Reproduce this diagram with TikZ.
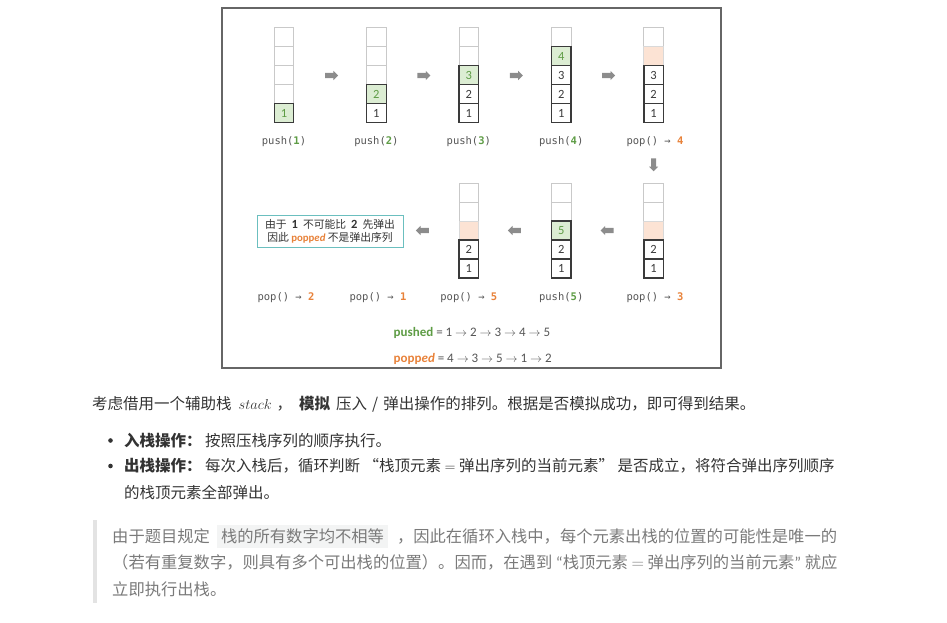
\documentclass[tikz,border=0pt]{standalone}
\usepackage{fontspec}
\setmainfont{Noto Sans CJK SC}
\newfontfamily\monofont{DejaVu Sans Mono}
\newfontfamily\numfont{Carlito}
\usepackage{xcolor}
\usetikzlibrary{shapes.arrows,positioning}
\definecolor{cgreen}{HTML}{5E9C45}
\definecolor{cgreenfill}{HTML}{DCEDD3}
\definecolor{corange}{HTML}{E8823A}
\definecolor{cpeach}{HTML}{FCE3D4}
\definecolor{cempty}{HTML}{C9C9C9}
\definecolor{cdark}{HTML}{3A3A3A}
\definecolor{cgray}{HTML}{555555}
\definecolor{carrow}{HTML}{8C8C8C}
\definecolor{cteal}{HTML}{6BBFBF}
\definecolor{ctext}{HTML}{333333}
\definecolor{cquote}{HTML}{7A7A7A}
\definecolor{cbar}{HTML}{E3E3E3}
\definecolor{ccode}{HTML}{F3F4F4}
\tikzset{
  cellbase/.style={minimum width=19.5pt,minimum height=19pt,inner sep=0pt,font=\numfont\fontsize{12.5}{14}\selectfont},
  emptycell/.style={cellbase,draw=cempty,line width=0.8pt,fill=white},
  fullcell/.style={cellbase,draw=cdark,line width=1.3pt,fill=white,text=cdark},
  newcell/.style={fullcell,fill=cgreenfill,text=cgreen},
  popcell/.style={cellbase,draw=cempty!70,line width=0.8pt,fill=cpeach},
  opname/.style={font=\monofont\fontsize{10.5}{12}\selectfont,text=cgray,inner sep=0pt},
  blockarrow/.style={single arrow,fill=carrow,minimum height=13pt,minimum width=9pt,
    single arrow head extend=2pt,inner sep=2.4pt},
  seqline/.style={anchor=west,inner sep=0pt,text=cgray,font=\numfont\fontsize{13}{15}\selectfont},
  bodyline/.style={anchor=west,inner sep=0pt,text=ctext,font=\fontsize{15.5}{18}\selectfont},
  quoteline/.style={anchor=west,inner sep=0pt,text=cquote,font=\fontsize{16.3}{19}\selectfont},
}
\newcommand{\pushop}[1]{push(\textcolor{cgreen}{\bfseries#1})}
\newcommand{\popop}[1]{pop() → \textcolor{corange}{\bfseries#1}}
\newcommand{\poppedword}{{\numfont\bfseries popp\itshape ed}}
\newcommand{\notedigit}[1]{{\numfont\bfseries\fontsize{12.5}{13}\selectfont #1}}

\begin{document}
\begin{tikzpicture}[x=1pt,y=-1pt]
\useasboundingbox (0,0) rectangle (947,623);

% ================= FRAME =================
\draw[cgray!90,line width=1.3pt] (222,8) rectangle (721,368);

% ================= ROW 1 : push(1) ... pop() =================
\node[emptycell] (s1a) at (284,37) {}; \node[emptycell] (s1b) at (284,56) {};
\node[emptycell] (s1c) at (284,75) {}; \node[emptycell] (s1d) at (284,94) {};
\node[newcell] (s1e) at (284,113) {1};
\node[opname] (o1) at (284,141.5) {\pushop{1}};

\node[emptycell] (s2a) at (376.4,37) {}; \node[emptycell] (s2b) at (376.4,56) {};
\node[emptycell] (s2c) at (376.4,75) {}; \node[newcell] (s2d) at (376.4,94) {2};
\node[fullcell] (s2e) at (376.4,113) {1};
\node[opname] (o2) at (376.4,141.5) {\pushop{2}};

\node[emptycell] (s3a) at (468.8,37) {}; \node[emptycell] (s3b) at (468.8,56) {};
\node[newcell] (s3c) at (468.8,75) {3}; \node[fullcell] (s3d) at (468.8,94) {2};
\node[fullcell] (s3e) at (468.8,113) {1};
\node[opname] (o3) at (468.8,141.5) {\pushop{3}};

\node[emptycell] (s4a) at (561.2,37) {}; \node[newcell] (s4b) at (561.2,56) {4};
\node[fullcell] (s4c) at (561.2,75) {3}; \node[fullcell] (s4d) at (561.2,94) {2};
\node[fullcell] (s4e) at (561.2,113) {1};
\node[opname] (o4) at (561.2,141.5) {\pushop{4}};

\node[emptycell] (s5a) at (653.6,37) {}; \node[popcell] (s5b) at (653.6,56) {};
\node[fullcell] (s5c) at (653.6,75) {3}; \node[fullcell] (s5d) at (653.6,94) {2};
\node[fullcell] (s5e) at (653.6,113) {1};
\node[opname] (o5) at (655,141.5) {\popop{4}};

% arrows between steps
\node[blockarrow] (ar1) at (330.2,75.5) {}; \node[blockarrow] (ar2) at (422.6,75.5) {};
\node[blockarrow] (ar3) at (515,75.5) {};   \node[blockarrow] (ar4) at (607.4,75.5) {};
\node[blockarrow,shape border rotate=270] (ar5) at (653.6,163.5) {};

% ================= ROW 2 : pop() ... =================
\node[emptycell] (s6a) at (653.6,192.5) {}; \node[emptycell] (s6b) at (653.6,211.5) {};
\node[popcell] (s6c) at (653.6,230.5) {}; \node[fullcell] (s6d) at (653.6,249.5) {2};
\node[fullcell] (s6e) at (653.6,268.5) {1};
\node[opname] (o6) at (655,297.5) {\popop{3}};

\node[emptycell] (s7a) at (561.2,192.5) {}; \node[emptycell] (s7b) at (561.2,211.5) {};
\node[newcell] (s7c) at (561.2,230.5) {5}; \node[fullcell] (s7d) at (561.2,249.5) {2};
\node[fullcell] (s7e) at (561.2,268.5) {1};
\node[opname] (o7) at (561.2,297.5) {\pushop{5}};

\node[emptycell] (s8a) at (468.8,192.5) {}; \node[emptycell] (s8b) at (468.8,211.5) {};
\node[popcell] (s8c) at (468.8,230.5) {}; \node[fullcell] (s8d) at (468.8,249.5) {2};
\node[fullcell] (s8e) at (468.8,268.5) {1};
\node[opname] (o8) at (468.8,297.5) {\popop{5}};

\node[opname] (o9) at (378,297.5) {\popop{1}};
\node[opname] (o10) at (286,297.5) {\popop{2}};

\node[blockarrow,shape border rotate=180] (ar6) at (608.3,230.5) {};
\node[blockarrow,shape border rotate=180] (ar7) at (515.7,230.5) {};
\node[blockarrow,shape border rotate=180] (ar8) at (423.7,230.5) {};

% failure note
\node[draw=cteal,line width=0.9pt,fill=white,minimum width=146pt,minimum height=31.5pt,inner sep=0pt,
  align=center,text=ctext,font=\fontsize{10.8}{13.3}\selectfont] (note) at (330,231.5)
  {由于\hspace{5pt}\notedigit{1}\hspace{5pt}不可能比\hspace{5pt}\notedigit{2}\hspace{5pt}先弹出\\因此 \textcolor{corange}{\poppedword} 不是弹出序列};

% sequences
\node[seqline] (pushseq) at (393.5,332.5)
  {\textcolor{cgreen}{\bfseries pushed} = 1 $\rightarrow$ 2 $\rightarrow$ 3 $\rightarrow$ 4 $\rightarrow$ 5};
\node[seqline] (popseq) at (393.5,359)
  {\textcolor{corange}{\bfseries popp\itshape ed} = 4 $\rightarrow$ 3 $\rightarrow$ 5 $\rightarrow$ 1 $\rightarrow$ 2};

% ================= TEXT BELOW =================
\node[bodyline] (t1) at (92,404) {考虑借用一个辅助栈\hspace{7pt}$stack$\hspace{5pt}，\hspace{7pt}\textbf{模拟}\hspace{6pt}压入\hspace{5pt}/\hspace{5pt}弹出操作的排列。根据是否模拟成功，即可得到结果。};
\fill[ctext] (110.5,440.5) circle (2.3);
\node[bodyline] (t2) at (124,440.5) {\textbf{入栈操作：} 按照压栈序列的顺序执行。};
\fill[ctext] (110.5,466) circle (2.3);
\node[bodyline] (t3) at (124,466) {\textbf{出栈操作：} 每次入栈后，循环判断 “栈顶元素 $=$ 弹出序列的当前元素” 是否成立，将符合弹出序列顺序};
\node[bodyline] (t4) at (124,492.5) {的栈顶元素全部弹出。};

% quote block
\fill[cbar] (92.5,520) rectangle (96.5,603);
\node[quoteline] (q1) at (112,536.5) {由于题目规定\hspace{7pt}{\fboxsep=4pt\colorbox{ccode}{栈的所有数字均不相等}}\hspace{9pt}，因此在循环入栈中，每个元素出栈的位置的可能性是唯一的};
\node[quoteline] (q2) at (112,562.5) {（若有重复数字，则具有多个可出栈的位置）。因而，在遇到 {\numfont “}栈顶元素 $=$ 弹出序列的当前元素{\numfont ”} 就应};
\node[quoteline] (q3) at (112,589) {立即执行出栈。};

\end{tikzpicture}
\end{document}
